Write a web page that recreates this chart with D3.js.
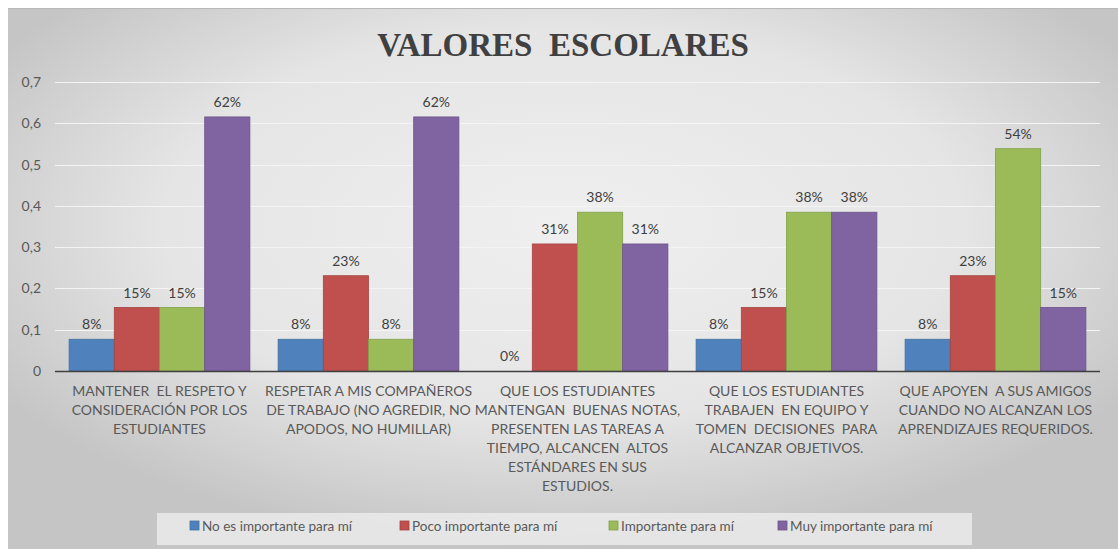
<!DOCTYPE html>
<html><head><meta charset="utf-8">
<script src="https://cdn.jsdelivr.net/npm/d3@7"></script>
<style>
html,body{margin:0;padding:0;background:#fff;}
svg{display:block;}
</style></head>
<body>
<script>
const categories = [
  ["MANTENER  EL RESPETO Y", "CONSIDERACIÓN POR LOS", "ESTUDIANTES"],
  ["RESPETAR A MIS COMPAÑEROS", "DE TRABAJO (NO AGREDIR, NO", "APODOS, NO HUMILLAR)"],
  ["QUE LOS ESTUDIANTES", "MANTENGAN  BUENAS NOTAS,", "PRESENTEN LAS TAREAS A", "TIEMPO, ALCANCEN  ALTOS", "ESTÁNDARES EN SUS", "ESTUDIOS."],
  ["QUE LOS ESTUDIANTES", "TRABAJEN  EN EQUIPO Y", "TOMEN  DECISIONES  PARA", "ALCANZAR OBJETIVOS."],
  ["QUE APOYEN  A SUS AMIGOS", "CUANDO NO ALCANZAN LOS", "APRENDIZAJES REQUERIDOS."]
];
const seriesNames = ["No es importante para mí", "Poco importante para mí", "Importante para mí", "Muy importante para mí"];
const noImportante = [0.0769, 0.0769, 0, 0.0769, 0.0769];
const pocoImportante = [0.1538, 0.2308, 0.3077, 0.1538, 0.2308];
const importante = [0.1538, 0.0769, 0.3846, 0.3846, 0.5385];
const muyImportante = [0.6154, 0.6154, 0.3077, 0.3846, 0.1538];
const yTicks = [0, 0.1, 0.2, 0.3, 0.4, 0.5, 0.6, 0.7];
const colors = ["#4F81BD", "#C0504D", "#9BBB59", "#8064A2"];
const strokes = ["#41709f", "#a34442", "#82a04a", "#6b5389"];
const title = "VALORES  ESCOLARES";

const W = 1118, H = 549;
const series = [noImportante, pocoImportante, importante, muyImportante];

const svg = d3.select("body").append("svg").attr("width", W).attr("height", H);
const defs = svg.append("defs");
const rg = defs.append("radialGradient").attr("id", "bg").attr("cx", "50%").attr("cy", "40%").attr("r", "60%");
rg.append("stop").attr("offset", "0%").attr("stop-color", "#efefef");
rg.append("stop").attr("offset", "60%").attr("stop-color", "#e5e5e5");
rg.append("stop").attr("offset", "100%").attr("stop-color", "#c5c5c5");

svg.append("rect").attr("x", 8).attr("y", 8).attr("width", W - 8).attr("height", H - 8).attr("fill", "url(#bg)");
svg.append("line").attr("x1", 8).attr("x2", W).attr("y1", 8.5).attr("y2", 8.5).attr("stroke", "#b8b8b8").attr("stroke-width", 1);

const x0 = d3.scaleBand().domain(d3.range(categories.length)).range([55, 1100]).paddingInner(0.135).paddingOuter(0.0675);
const x1 = d3.scaleBand().domain(d3.range(series.length)).range([0, x0.bandwidth()]);
const y = d3.scaleLinear().domain([0, 0.7]).range([371, 82]);

// gridlines
svg.append("g").selectAll("line").data(yTicks.filter(t => t > 0)).join("line")
  .attr("x1", 55).attr("x2", 1100)
  .attr("y1", d => Math.round(y(d)) + 0.5).attr("y2", d => Math.round(y(d)) + 0.5)
  .attr("stroke", "#f4f4f4").attr("stroke-width", 1);

// y axis
const yAxis = d3.axisLeft(y).tickValues(yTicks).tickSize(0).tickPadding(14)
  .tickFormat(d => d === 0 ? "0" : d3.format(".1f")(d).replace(".", ","));
const ya = svg.append("g").attr("transform", "translate(55,0)").call(yAxis);
ya.select(".domain").remove();
ya.selectAll("text").attr("font-family", "Lato, 'Open Sans', sans-serif").attr("font-size", 14).attr("fill", "#595959");

// bars
const groups = svg.append("g").selectAll("g").data(series).join("g");
groups.each(function(vals, si) {
  d3.select(this).selectAll("rect").data(vals).join("rect")
    .attr("x", (d, ci) => x0(ci) + x1(si))
    .attr("width", x1.bandwidth())
    .attr("y", d => y(d))
    .attr("height", d => y(0) - y(d))
    .attr("fill", colors[si])
    .attr("stroke", d => d > 0 ? strokes[si] : "none")
    .attr("stroke-width", 0.8);
  d3.select(this).selectAll("text").data(vals).join("text")
    .attr("x", (d, ci) => x0(ci) + x1(si) + x1.bandwidth() / 2)
    .attr("y", d => y(d) - 10)
    .attr("text-anchor", "middle")
    .attr("font-family", "Lato, 'Open Sans', sans-serif").attr("font-size", 14).attr("fill", "#404040")
    .text(d => d3.format(".0%")(d));
});

// x axis line
const xa = svg.append("g").attr("transform", "translate(0,371)")
  .call(d3.axisBottom(x0).tickSize(0).tickFormat(""));
xa.select(".domain").attr("d", "M55,0.5H1100").attr("stroke", "#404040").attr("stroke-width", 1.6);

// category labels
const catG = svg.append("g").selectAll("text").data(categories).join("text")
  .attr("x", (d, i) => x0(i) + x0.bandwidth() / 2)
  .attr("y", 396)
  .attr("text-anchor", "middle")
  .attr("font-family", "Lato, 'Open Sans', sans-serif").attr("font-size", 14).attr("fill", "#595959")
  .style("white-space", "pre");
catG.each(function(lines) {
  d3.select(this).selectAll("tspan").data(lines).join("tspan")
    .attr("x", d3.select(this).attr("x"))
    .attr("dy", (d, i) => i === 0 ? 0 : 19)
    .text(d => d);
});

// title
svg.append("text").attr("x", 563).attr("y", 56).attr("text-anchor", "middle")
  .attr("font-family", "'Liberation Serif', 'Times New Roman', serif").attr("font-weight", "bold")
  .attr("font-size", 33).attr("fill", "#404040").style("white-space", "pre").text(title);

// legend
svg.append("rect").attr("x", 157).attr("y", 513).attr("width", 815).attr("height", 32).attr("fill", "#efefef").attr("opacity", 0.75);
const legendX = [190, 400, 609, 778];
const lg = svg.append("g").selectAll("g").data(seriesNames).join("g")
  .attr("transform", (d, i) => `translate(${legendX[i]},526)`);
lg.append("rect").attr("x", 0).attr("y", -5).attr("width", 9).attr("height", 9)
  .attr("fill", (d, i) => colors[i]).attr("stroke", (d, i) => strokes[i]).attr("stroke-width", 0.8);
lg.append("text").attr("x", 12).attr("y", 4.5)
  .attr("font-family", "Lato, 'Open Sans', sans-serif").attr("font-size", 13.5).attr("fill", "#595959")
  .text(d => d);
</script>
</body></html>
